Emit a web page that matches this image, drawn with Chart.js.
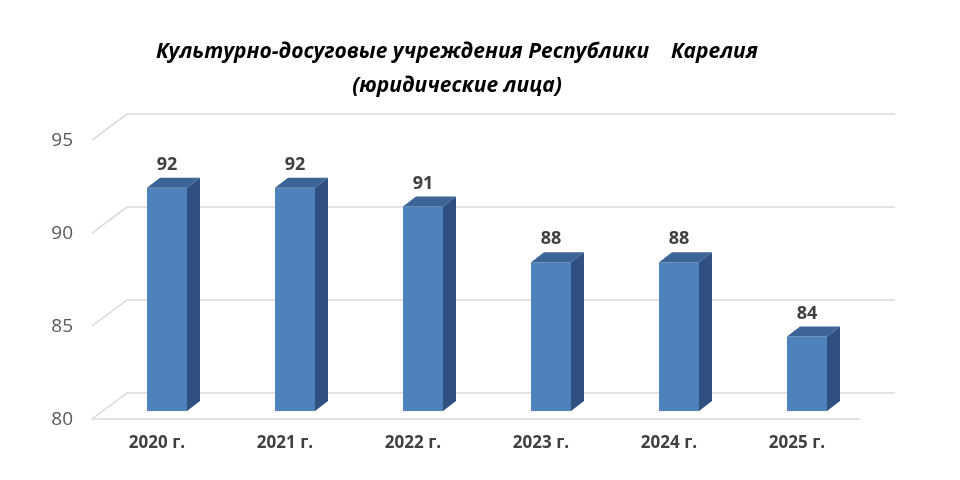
<!DOCTYPE html>
<html>
<head>
<meta charset="utf-8">
<script src="https://cdn.jsdelivr.net/npm/chart.js@4/dist/chart.umd.min.js"></script>
<style>
	html, body { margin: 0; padding: 0; background: #fff; }
	#wrap { width: 960px; height: 480px; }
</style>
</head>
<body>
<div id="wrap"><canvas id="chart"></canvas></div>
<script>
const years = ['2020 г.', '2021 г.', '2022 г.', '2023 г.', '2024 г.', '2025 г.'];
const counts = [92, 92, 91, 88, 88, 84];
const yTicks = [80, 85, 90, 95];
const titleLines = ['Культурно-досуговые учреждения Республики    Карелия', '(юридические лица)'];

// depth of the 3d bar and of the floor / back wall
const barDepth = { dx: 13, dy: -10 };
const wallDepth = { dx: 35, front: 8, back: -18 };

const gridPlugin = {
	id: 'grid3d',
	beforeDatasetsDraw(chart) {
		const { ctx, chartArea, scales } = chart;
		const left = chartArea.left - 11;
		const right = chartArea.right - 11;
		ctx.save();
		ctx.strokeStyle = '#D9D9D9';
		ctx.lineWidth = 1.5;
		yTicks.forEach((v) => {
			const y = scales.y.getPixelForValue(v);
			ctx.beginPath();
			ctx.moveTo(left, y + wallDepth.front);
			ctx.lineTo(left + wallDepth.dx, y + wallDepth.back);
			ctx.lineTo(right + wallDepth.dx, y + wallDepth.back);
			ctx.stroke();
		});
		// front edge of the floor
		const yb = scales.y.getPixelForValue(yTicks[0]);
		ctx.beginPath();
		ctx.moveTo(left, yb + wallDepth.front);
		ctx.lineTo(right, yb + wallDepth.front);
		ctx.stroke();
		ctx.restore();
	},
};

const barPlugin = {
	id: 'bars3d',
	afterDatasetsDraw(chart) {
		const { ctx, chartArea } = chart;
		const meta = chart.getDatasetMeta(0);
		ctx.save();
		meta.data.forEach((bar, i) => {
			const l = bar.x - bar.width / 2;
			const r = bar.x + bar.width / 2;
			const t = bar.y;
			const b = Math.min(bar.base, chartArea.bottom);
			// side
			ctx.fillStyle = '#2F5080';
			ctx.beginPath();
			ctx.moveTo(r, t);
			ctx.lineTo(r + barDepth.dx, t + barDepth.dy);
			ctx.lineTo(r + barDepth.dx, b + barDepth.dy);
			ctx.lineTo(r, b);
			ctx.closePath();
			ctx.fill();
			// top
			ctx.fillStyle = '#3C6496';
			ctx.beginPath();
			ctx.moveTo(l, t);
			ctx.lineTo(l + barDepth.dx, t + barDepth.dy);
			ctx.lineTo(r + barDepth.dx, t + barDepth.dy);
			ctx.lineTo(r, t);
			ctx.closePath();
			ctx.fill();
			// value label
			ctx.fillStyle = '#404040';
			ctx.font = 'bold 18px "Open Sans"';
			ctx.textAlign = 'center';
			ctx.textBaseline = 'middle';
			ctx.fillText(String(counts[i]), bar.x, t - 23);
		});
		ctx.restore();
	},
};

new Chart(document.getElementById('chart'), {
	type: 'bar',
	data: {
		labels: years,
		datasets: [
			{
				data: counts,
				backgroundColor: '#4F81BD',
				borderWidth: 0,
				barPercentage: 0.3125,
				categoryPercentage: 1,
			},
		],
	},
	options: {
		responsive: true,
		maintainAspectRatio: false,
		animation: false,
		layout: { padding: { left: 43, right: 89, top: 0, bottom: 19 } },
		plugins: {
			legend: { display: false },
			tooltip: { enabled: false },
			title: {
				display: true,
				text: titleLines,
				color: '#000',
				font: { family: '"Open Sans"', size: 21, weight: 'bold', style: 'italic', lineHeight: 1.62 },
				padding: { top: 35, bottom: 29 },
			},
		},
		scales: {
			x: {
				grid: { display: false, drawTicks: false },
				border: { display: false },
				ticks: {
					color: '#404040',
					font: { family: '"Open Sans"', size: 17, weight: 'bold' },
					padding: 22,
					labelOffset: -10,
					maxRotation: 0,
				},
				afterFit(scale) { scale.height = 50; },
			},
			y: {
				min: 80,
				max: 95,
				grid: { display: false, drawTicks: false },
				border: { display: false },
				ticks: {
					stepSize: 5,
					color: '#595959',
					font: { family: '"Open Sans"', size: 19 },
					padding: 30,
					labelOffset: 9,
				},
				afterFit(scale) { scale.width = 60; },
			},
		},
	},
	plugins: [gridPlugin, barPlugin],
});
</script>
</body>
</html>
